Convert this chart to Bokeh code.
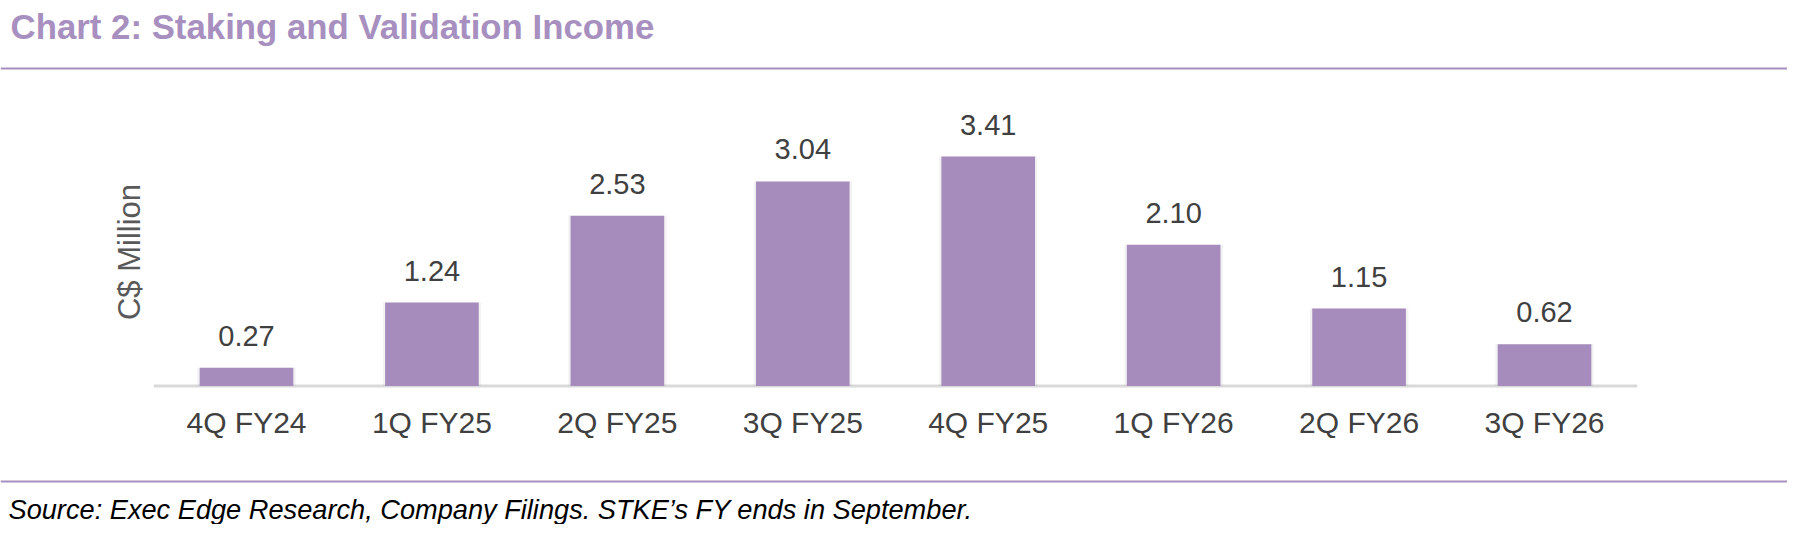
import math
from bokeh.plotting import figure
from bokeh.models import Range1d, ColumnDataSource, Label, Span
from bokeh.core.properties import value
from bokeh.embed import file_html
from bokeh.resources import INLINE

# ---- data ----
categories = ["4Q FY24", "1Q FY25", "2Q FY25", "3Q FY25", "4Q FY25", "1Q FY26", "2Q FY26", "3Q FY26"]
income = [0.27, 1.24, 2.53, 3.04, 3.41, 2.10, 1.15, 0.62]
value_labels = ["%.2f" % v for v in income]

title_text = "Chart 2: Staking and Validation Income"
y_label_text = "C$ Million"
source_text = "Source: Exec Edge Research, Company Filings. STKE\u2019s FY ends in September."

W, H = 1787, 524
FONT = "Liberation Sans"
PURPLE = "#A78FC0"
BAR = "#A68BBD"
TXT = "#404040"

idx = list(range(len(categories)))
src = ColumnDataSource(dict(x=idx, top=income, cat=categories, lab=value_labels,
                            zero=[0] * len(idx)))

p = figure(width=W, height=H, output_backend="svg", toolbar_location=None,
           x_range=Range1d(-1.3266, 8.3104), y_range=Range1d(-2.058, 5.728),
           x_axis_type=None, y_axis_type=None,
           min_border=0, min_border_left=0, min_border_right=0,
           min_border_top=0, min_border_bottom=0)
p.outline_line_color = None
p.background_fill_color = "white"
p.border_fill_color = "white"
p.grid.visible = False

# baseline (category axis line)
p.segment(x0=[idx[0] - 0.5], x1=[idx[-1] + 0.5], y0=[0], y1=[0],
          line_color="#D9D9D9", line_width=3)

# bar shadow + bars
p.vbar(x="x", top="top", bottom=0, width=0.53, source=src,
       fill_color="#7f7f7f", fill_alpha=0.10, line_color=None)
p.vbar(x="x", top="top", bottom=0, width=0.505, source=src,
       fill_color=BAR, line_color=None)

# value labels
p.text(x="x", y="top", text="lab", source=src, y_offset=-32,
       text_align="center", text_baseline="alphabetic",
       text_font=value(FONT), text_font_size="29px", text_color=TXT)

# category labels
p.text(x="x", y="zero", text="cat", source=src, y_offset=37,
       text_align="center", text_baseline="alphabetic",
       text_font=value(FONT), text_font_size="30px", text_color=TXT)

# y axis label
p.add_layout(Label(x=129, y=272.5, x_units="screen", y_units="screen",
                   text=y_label_text, angle=math.pi / 2,
                   text_align="center", text_baseline="alphabetic",
                   text_font=FONT, text_font_size="31px", text_color="#595959"))

# title
p.add_layout(Label(x=10, y=H - 26, x_units="screen", y_units="screen",
                   text=title_text, text_align="left", text_baseline="alphabetic",
                   text_font=FONT, text_font_size="34.8px", text_font_style="bold",
                   text_color=PURPLE))

# rules
p.add_layout(Span(location=H - 68, location_units="screen", dimension="width",
                  line_color=PURPLE, line_width=2))
p.add_layout(Span(location=H - 481, location_units="screen", dimension="width",
                  line_color=PURPLE, line_width=2))

# source
p.add_layout(Label(x=8, y=15, x_units="screen", y_units="screen",
                   text=source_text, text_align="left", text_baseline="alphabetic",
                   text_font=FONT, text_font_size="27.2px", text_font_style="italic",
                   text_color="black"))

open("out.html", "w").write(file_html(p, INLINE))
